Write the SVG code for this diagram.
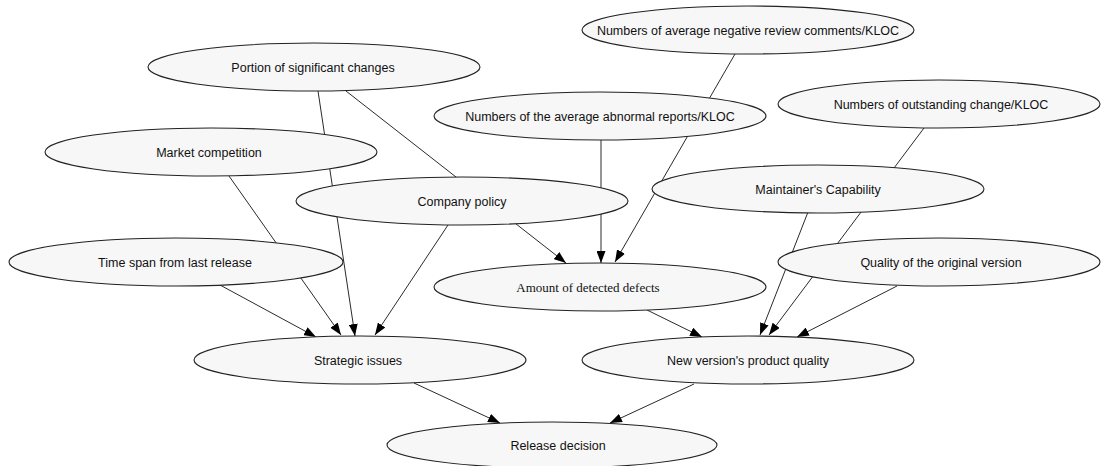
<svg xmlns="http://www.w3.org/2000/svg" width="1102" height="466" viewBox="0 0 1102 466">
<style>
.n ellipse{fill:#f7f7f7;stroke:#222;stroke-width:1.1}
.n text{font-family:"Liberation Sans",Arial,sans-serif;font-size:12.5px;fill:#111;text-anchor:middle}
.n text.s{font-family:"Liberation Serif","Times New Roman",serif;font-size:13px}
#edges line{stroke:#2a2a2a;stroke-width:1;marker-end:url(#ah)}
</style>
<defs>
<marker id="ah" markerUnits="userSpaceOnUse" markerWidth="12" markerHeight="9" refX="12" refY="4.5" orient="auto">
<path d="M0,0 L12,4.5 L0,9 z" fill="#000"/>
</marker>
</defs>
<rect width="1102" height="466" fill="#fff"/>
<g id="edges">
<line x1="318" y1="91" x2="355" y2="336"/>
<line x1="346" y1="91" x2="566" y2="263"/>
<line x1="229" y1="176" x2="341" y2="335"/>
<line x1="220" y1="285" x2="316" y2="337"/>
<line x1="448" y1="225" x2="375" y2="335"/>
<line x1="601" y1="140" x2="601" y2="263"/>
<line x1="735" y1="54" x2="615" y2="262"/>
<line x1="924" y1="128" x2="769" y2="335"/>
<line x1="808" y1="212" x2="760" y2="335"/>
<line x1="897" y1="286" x2="797" y2="337"/>
<line x1="647" y1="310" x2="702" y2="337"/>
<line x1="414" y1="383" x2="500" y2="423"/>
<line x1="694" y1="384" x2="610" y2="423"/>
</g>
<g id="n-neg" class="n"><ellipse cx="748" cy="30" rx="166" ry="24"/><text x="748" y="34.5">Numbers of average negative review comments/KLOC</text></g>
<g id="n-portion" class="n"><ellipse cx="314" cy="67" rx="166" ry="24"/><text x="313" y="71.5">Portion of significant changes</text></g>
<g id="n-abnormal" class="n"><ellipse cx="600" cy="116" rx="166" ry="24"/><text x="600" y="120.5">Numbers of the average abnormal reports/KLOC</text></g>
<g id="n-outstanding" class="n"><ellipse cx="939" cy="104" rx="161" ry="24"/><text x="941" y="108.5">Numbers of outstanding change/KLOC</text></g>
<g id="n-market" class="n"><ellipse cx="211" cy="152" rx="166" ry="24"/><text x="209" y="156.5">Market competition</text></g>
<g id="n-maintainer" class="n"><ellipse cx="818" cy="189" rx="166" ry="24"/><text x="818" y="193.5">Maintainer's Capability</text></g>
<g id="n-company" class="n"><ellipse cx="462" cy="201" rx="166" ry="24"/><text x="462" y="205.5">Company policy</text></g>
<g id="n-timespan" class="n"><ellipse cx="176" cy="262" rx="167" ry="24"/><text x="175" y="266.5">Time span from last release</text></g>
<g id="n-amount" class="n"><ellipse cx="600" cy="287" rx="166" ry="24"/><text class="s" x="588" y="291.5">Amount of detected defects</text></g>
<g id="n-quality" class="n"><ellipse cx="939" cy="262" rx="161" ry="24"/><text x="941" y="266.5">Quality of the original version</text></g>
<g id="n-strategic" class="n"><ellipse cx="360" cy="360" rx="166" ry="24"/><text x="358" y="364.5">Strategic issues</text></g>
<g id="n-newver" class="n"><ellipse cx="748" cy="360" rx="166" ry="24"/><text x="748" y="364.5">New version's product quality</text></g>
<g id="n-release" class="n"><ellipse cx="552" cy="445" rx="165" ry="23"/><text x="558" y="449.5">Release decision</text></g>
</svg>
